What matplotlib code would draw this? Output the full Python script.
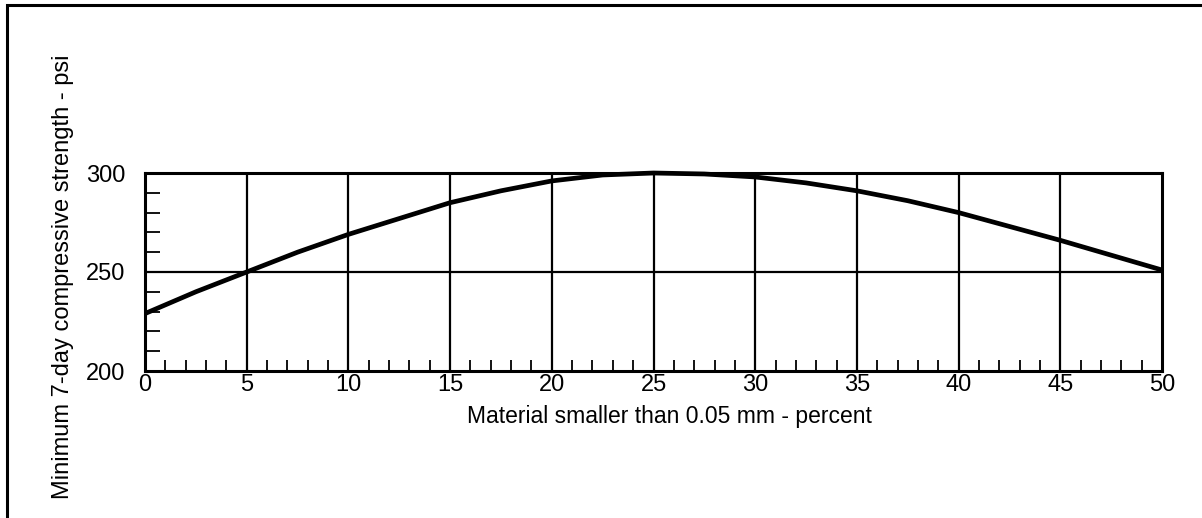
import matplotlib.pyplot as plt
from matplotlib.patches import Rectangle

plt.rcParams['font.family'] = ['Liberation Sans', 'DejaVu Sans']

# values
fines = [0, 2.5, 5, 7.5, 10, 12.5, 15, 17.5, 20, 22.5, 25,
         27.5, 30, 32.5, 35, 37.5, 40, 42.5, 45, 47.5, 50]
strength = [229, 240, 250, 260, 269, 277, 285, 291, 296, 299, 300,
            299.5, 298, 295, 291, 286, 280, 273, 266, 258.5, 251]

x_major = [0, 5, 10, 15, 20, 25, 30, 35, 40, 45, 50]
y_major = [200, 250, 300]
y_minor = [210, 220, 230, 240, 260, 270, 280, 290]
x_minor = [v for v in range(0, 51) if v % 5 != 0]

W, H = 1202, 518
fig = plt.figure(figsize=(W / 100, H / 100), dpi=100)
ax = fig.add_axes([145 / W, 1 - 371 / H, (1162 - 145) / W, (371 - 173) / H])

# outer frame (cut off at right and bottom)
fig.patches.append(Rectangle((7 / W, -0.1), 1.2, 1 - 5 / H + 0.1,
                             transform=fig.transFigure, fill=False,
                             edgecolor='black', linewidth=2.2))

ax.plot(fines, strength, color='black', linewidth=3.4, clip_on=False,
        solid_capstyle='butt')

ax.set_xlim(0, 50)
ax.set_ylim(200, 300)
ax.set_xticks(x_major)
ax.set_yticks(y_major)
ax.set_xticks(x_minor, minor=True)
ax.set_yticks(y_minor, minor=True)

for v in x_major[1:-1]:
    ax.axvline(v, color='black', linewidth=1.6)
ax.axhline(250, color='black', linewidth=1.6)

ax.tick_params(which='major', length=0, labelsize=17, pad=2)
ax.tick_params(axis='y', which='major', pad=14)
ax.tick_params(which='minor', direction='in', width=1.3)
ax.tick_params(axis='x', which='minor', length=8)
ax.tick_params(axis='y', which='minor', length=11)

for s in ax.spines.values():
    s.set_linewidth(2.2)

fig.text(669 / W, 1 - 417 / H, 'Material smaller than 0.05 mm - percent',
         ha='center', va='center', fontsize=16.5)
fig.text(63 / W, 1 - 277 / H, 'Minimum 7-day compressive strength - psi',
         ha='center', va='center', rotation=90, fontsize=17)

fig.savefig('out.png', dpi=100)
